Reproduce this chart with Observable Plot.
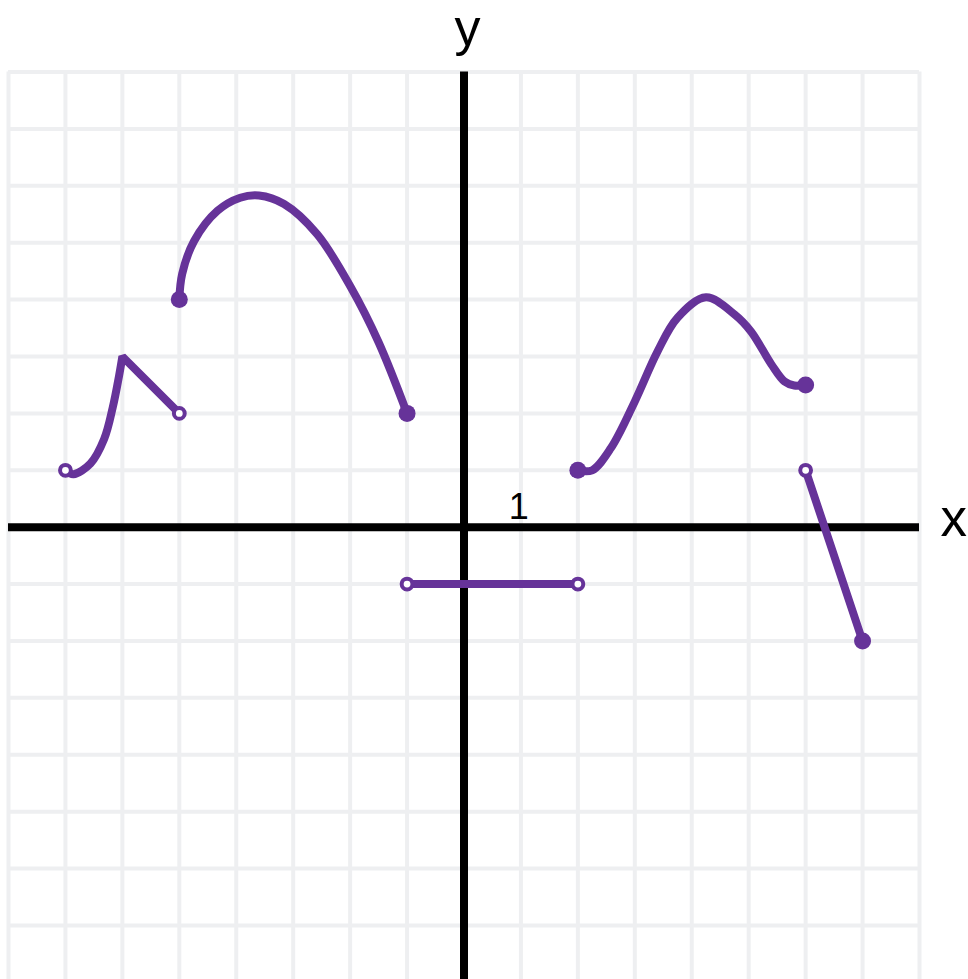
<!DOCTYPE html>
<html>
<head>
<meta charset="utf-8">
<script src="https://cdn.jsdelivr.net/npm/d3@7"></script>
<script src="https://cdn.jsdelivr.net/npm/@observablehq/plot@0.6"></script>
<style>
  html, body { margin: 0; padding: 0; background: #fff; }
  #chart svg { display: block; }
</style>
</head>
<body>
<div id="chart"></div>
<script>
// Grid ticks (unit grid)
const gridTicks = [-8,-7,-6,-5,-4,-3,-2,-1,0,1,2,3,4,5,6,7,8];

// Function pieces (x, y)
const piece1 = [[-7,1],[-6.86,0.93],[-6.56,1.12],[-6.32,1.55],[-6.17,2.1],[-6.06,2.65],[-6,3],[-6,3],[-5,2]];
const piece2 = [[-5,4],[-4.95,4.45],[-4.74,5.03],[-4.33,5.56],[-3.93,5.79],[-3.6,5.83],[-3.16,5.68],[-2.58,5.15],[-1.99,4.22],[-1.5,3.25],[-1,2]];
const piece3 = [[-1,-1],[2,-1]];
const piece4 = [[2,1],[2.25,1.0],[2.58,1.39],[3.0,2.21],[3.4,3.09],[3.75,3.68],[4.25,4.04],[4.75,3.74],[5.04,3.44],[5.4,2.86],[5.63,2.56],[5.8,2.49],[6,2.5]];
const piece5 = [[6,1],[7,-2]];

// Endpoints
const openDots = [[-7,1],[-5,2],[-1,-1],[2,-1],[6,1]];
const filledDots = [[-5,4],[-1,2],[2,1],[6,2.5],[7,-2]];

// Labels
const labels = [
  {x: 0.06, y: 8.47, text: "y", size: 52},
  {x: 8.6, y: -0.15, text: "x", size: 53},
  {x: 0.96, y: 0.15, text: "1", size: 36}
];

const purple = "#663399";
const gridColor = "#eeeff1";
const yMin = -7.95, yMax = 8, xMin = -8, xMax = 8;

const lineOpts = {x: d => d[0], y: d => d[1], stroke: purple, strokeWidth: 8, curve: "catmull-rom", strokeLinejoin: "miter", strokeLinecap: "round"};

const chart = Plot.plot({
  width: 968,
  height: 979,
  marginLeft: 8,
  marginRight: 49,
  marginTop: 71.5,
  marginBottom: 0,
  x: {domain: [xMin, xMax], axis: null},
  y: {domain: [yMin, yMax], axis: null},
  style: {fontFamily: "'Liberation Sans', Arial, sans-serif", background: "#fff"},
  marks: [
    Plot.ruleX(gridTicks, {x: d => d, y1: yMin, y2: yMax, stroke: gridColor, strokeWidth: 4}),
    Plot.ruleY(gridTicks.filter(d => d >= yMin), {y: d => d, x1: xMin, x2: xMax, stroke: gridColor, strokeWidth: 4}),
    Plot.ruleY([0], {x1: xMin, x2: xMax, stroke: "#000", strokeWidth: 8}),
    Plot.ruleX([0], {y1: yMin, y2: yMax, stroke: "#000", strokeWidth: 8}),
    Plot.line(piece1, lineOpts),
    Plot.line(piece2, lineOpts),
    Plot.line(piece3, {...lineOpts, curve: "linear"}),
    Plot.line(piece4, lineOpts),
    Plot.line(piece5, {...lineOpts, curve: "linear"}),
    Plot.dot(filledDots, {x: d => d[0], y: d => d[1], r: 8.5, fill: purple, stroke: "none"}),
    Plot.dot(openDots, {x: d => d[0], y: d => d[1], r: 5.4, fill: "#fff", stroke: purple, strokeWidth: 4}),
    Plot.text(labels, {x: "x", y: "y", text: "text", fontSize: "size", fill: "#000", textAnchor: "middle", lineAnchor: "bottom"})
  ]
});
document.getElementById("chart").appendChild(chart);
</script>
</body>
</html>
